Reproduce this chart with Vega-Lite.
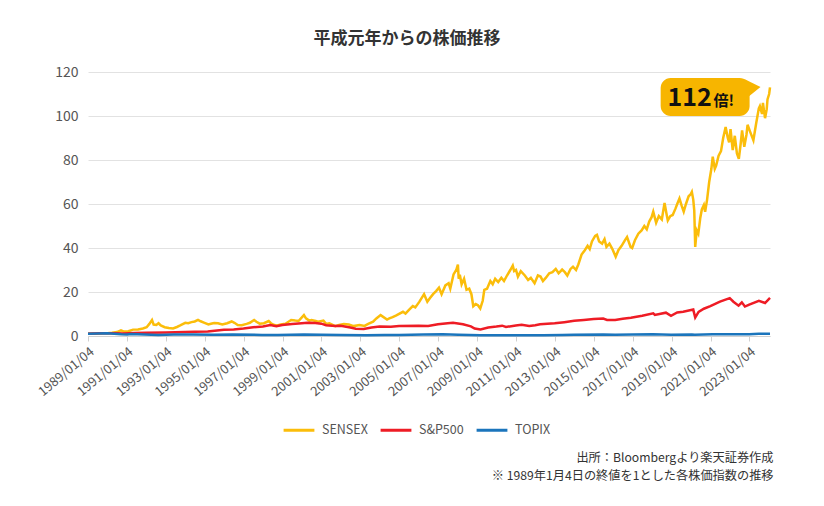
{
  "$schema": "https://vega.github.io/schema/vega-lite/v6.json",
  "autosize": {"type": "none"},
  "padding": {"left": 88, "top": 72, "right": 54, "bottom": 170},
  "width": 682,
  "height": 264,
  "config": {
    "font": "Noto Sans CJK JP",
    "view": {"stroke": null}
  },
  "title": {
    "text": "平成元年からの株価推移",
    "fontSize": 17,
    "fontWeight": "bold",
    "color": "#333",
    "anchor": "middle",
    "dx": -22,
    "offset": 17
  },
  "datasets": {
    "idx": [
      {"date": "1989/01/04", "series": "SENSEX", "value": 1.0},
      {"date": "1989/04/01", "series": "SENSEX", "value": 1.1},
      {"date": "1989/07/01", "series": "SENSEX", "value": 1.0},
      {"date": "1989/10/01", "series": "SENSEX", "value": 1.2},
      {"date": "1990/01/01", "series": "SENSEX", "value": 1.3},
      {"date": "1990/04/01", "series": "SENSEX", "value": 1.5},
      {"date": "1990/07/01", "series": "SENSEX", "value": 1.8},
      {"date": "1990/09/15", "series": "SENSEX", "value": 2.6},
      {"date": "1990/11/01", "series": "SENSEX", "value": 2.1},
      {"date": "1991/02/01", "series": "SENSEX", "value": 2.2},
      {"date": "1991/05/01", "series": "SENSEX", "value": 2.9},
      {"date": "1991/08/01", "series": "SENSEX", "value": 3.0},
      {"date": "1991/11/01", "series": "SENSEX", "value": 3.4},
      {"date": "1992/01/10", "series": "SENSEX", "value": 4.0},
      {"date": "1992/03/01", "series": "SENSEX", "value": 5.5},
      {"date": "1992/04/20", "series": "SENSEX", "value": 7.3},
      {"date": "1992/05/20", "series": "SENSEX", "value": 5.2},
      {"date": "1992/07/10", "series": "SENSEX", "value": 5.0},
      {"date": "1992/08/20", "series": "SENSEX", "value": 5.8},
      {"date": "1992/10/01", "series": "SENSEX", "value": 4.8},
      {"date": "1992/12/15", "series": "SENSEX", "value": 4.0},
      {"date": "1993/03/01", "series": "SENSEX", "value": 3.6},
      {"date": "1993/05/20", "series": "SENSEX", "value": 3.4},
      {"date": "1993/08/01", "series": "SENSEX", "value": 4.1},
      {"date": "1993/10/01", "series": "SENSEX", "value": 4.8},
      {"date": "1994/01/05", "series": "SENSEX", "value": 6.0},
      {"date": "1994/03/01", "series": "SENSEX", "value": 5.8},
      {"date": "1994/05/01", "series": "SENSEX", "value": 6.3},
      {"date": "1994/07/01", "series": "SENSEX", "value": 6.6},
      {"date": "1994/09/01", "series": "SENSEX", "value": 7.3},
      {"date": "1994/10/20", "series": "SENSEX", "value": 6.7},
      {"date": "1995/01/01", "series": "SENSEX", "value": 6.0},
      {"date": "1995/03/15", "series": "SENSEX", "value": 5.3},
      {"date": "1995/05/01", "series": "SENSEX", "value": 5.6},
      {"date": "1995/07/01", "series": "SENSEX", "value": 5.9},
      {"date": "1995/09/10", "series": "SENSEX", "value": 5.8},
      {"date": "1995/12/01", "series": "SENSEX", "value": 5.2},
      {"date": "1996/03/01", "series": "SENSEX", "value": 5.8},
      {"date": "1996/05/25", "series": "SENSEX", "value": 6.6},
      {"date": "1996/07/15", "series": "SENSEX", "value": 6.0},
      {"date": "1996/09/15", "series": "SENSEX", "value": 5.0},
      {"date": "1996/12/01", "series": "SENSEX", "value": 4.9},
      {"date": "1997/03/01", "series": "SENSEX", "value": 5.5},
      {"date": "1997/05/01", "series": "SENSEX", "value": 6.0},
      {"date": "1997/07/20", "series": "SENSEX", "value": 7.3},
      {"date": "1997/09/01", "series": "SENSEX", "value": 6.5},
      {"date": "1997/11/01", "series": "SENSEX", "value": 5.6},
      {"date": "1998/01/20", "series": "SENSEX", "value": 5.8},
      {"date": "1998/04/20", "series": "SENSEX", "value": 6.8},
      {"date": "1998/06/01", "series": "SENSEX", "value": 5.8},
      {"date": "1998/08/01", "series": "SENSEX", "value": 5.0},
      {"date": "1998/10/01", "series": "SENSEX", "value": 4.8},
      {"date": "1998/12/01", "series": "SENSEX", "value": 5.2},
      {"date": "1999/03/01", "series": "SENSEX", "value": 5.6},
      {"date": "1999/06/15", "series": "SENSEX", "value": 7.3},
      {"date": "1999/09/01", "series": "SENSEX", "value": 7.0},
      {"date": "1999/11/01", "series": "SENSEX", "value": 6.8},
      {"date": "2000/02/10", "series": "SENSEX", "value": 9.5},
      {"date": "2000/03/20", "series": "SENSEX", "value": 8.0},
      {"date": "2000/05/20", "series": "SENSEX", "value": 7.0},
      {"date": "2000/07/01", "series": "SENSEX", "value": 7.3},
      {"date": "2000/09/20", "series": "SENSEX", "value": 6.8},
      {"date": "2000/11/01", "series": "SENSEX", "value": 6.5},
      {"date": "2001/02/10", "series": "SENSEX", "value": 7.0},
      {"date": "2001/04/01", "series": "SENSEX", "value": 5.5},
      {"date": "2001/06/01", "series": "SENSEX", "value": 5.8},
      {"date": "2001/09/20", "series": "SENSEX", "value": 4.5},
      {"date": "2001/12/01", "series": "SENSEX", "value": 5.0},
      {"date": "2002/03/01", "series": "SENSEX", "value": 5.5},
      {"date": "2002/06/01", "series": "SENSEX", "value": 5.2},
      {"date": "2002/09/01", "series": "SENSEX", "value": 4.5},
      {"date": "2002/12/20", "series": "SENSEX", "value": 5.0},
      {"date": "2003/03/25", "series": "SENSEX", "value": 4.6},
      {"date": "2003/06/01", "series": "SENSEX", "value": 5.5},
      {"date": "2003/09/01", "series": "SENSEX", "value": 6.5},
      {"date": "2003/11/01", "series": "SENSEX", "value": 8.0},
      {"date": "2004/01/20", "series": "SENSEX", "value": 9.5},
      {"date": "2004/05/20", "series": "SENSEX", "value": 7.5},
      {"date": "2004/07/01", "series": "SENSEX", "value": 8.0},
      {"date": "2004/09/01", "series": "SENSEX", "value": 8.6},
      {"date": "2004/11/01", "series": "SENSEX", "value": 9.3},
      {"date": "2005/03/15", "series": "SENSEX", "value": 11.0},
      {"date": "2005/05/01", "series": "SENSEX", "value": 10.2},
      {"date": "2005/07/01", "series": "SENSEX", "value": 11.8},
      {"date": "2005/09/15", "series": "SENSEX", "value": 13.6},
      {"date": "2005/11/01", "series": "SENSEX", "value": 13.0},
      {"date": "2006/01/15", "series": "SENSEX", "value": 15.5},
      {"date": "2006/04/15", "series": "SENSEX", "value": 19.0},
      {"date": "2006/06/15", "series": "SENSEX", "value": 15.6},
      {"date": "2006/08/01", "series": "SENSEX", "value": 17.2},
      {"date": "2006/10/01", "series": "SENSEX", "value": 19.0},
      {"date": "2006/12/01", "series": "SENSEX", "value": 20.5},
      {"date": "2007/01/20", "series": "SENSEX", "value": 22.0},
      {"date": "2007/03/10", "series": "SENSEX", "value": 19.0},
      {"date": "2007/05/20", "series": "SENSEX", "value": 23.0},
      {"date": "2007/07/20", "series": "SENSEX", "value": 24.0},
      {"date": "2007/08/20", "series": "SENSEX", "value": 21.5},
      {"date": "2007/10/20", "series": "SENSEX", "value": 28.0},
      {"date": "2007/12/10", "series": "SENSEX", "value": 30.0},
      {"date": "2008/01/10", "series": "SENSEX", "value": 32.5},
      {"date": "2008/01/25", "series": "SENSEX", "value": 26.0},
      {"date": "2008/02/15", "series": "SENSEX", "value": 27.8},
      {"date": "2008/03/20", "series": "SENSEX", "value": 23.5},
      {"date": "2008/05/05", "series": "SENSEX", "value": 26.0},
      {"date": "2008/06/20", "series": "SENSEX", "value": 21.0},
      {"date": "2008/08/10", "series": "SENSEX", "value": 21.5},
      {"date": "2008/09/20", "series": "SENSEX", "value": 19.0},
      {"date": "2008/10/25", "series": "SENSEX", "value": 13.5},
      {"date": "2008/12/10", "series": "SENSEX", "value": 14.5},
      {"date": "2009/01/20", "series": "SENSEX", "value": 14.0},
      {"date": "2009/03/05", "series": "SENSEX", "value": 12.5},
      {"date": "2009/04/20", "series": "SENSEX", "value": 16.0},
      {"date": "2009/05/20", "series": "SENSEX", "value": 21.0},
      {"date": "2009/07/10", "series": "SENSEX", "value": 21.5},
      {"date": "2009/09/10", "series": "SENSEX", "value": 25.0},
      {"date": "2009/10/25", "series": "SENSEX", "value": 23.5},
      {"date": "2009/12/10", "series": "SENSEX", "value": 26.0},
      {"date": "2010/02/05", "series": "SENSEX", "value": 24.5},
      {"date": "2010/04/05", "series": "SENSEX", "value": 26.5},
      {"date": "2010/05/25", "series": "SENSEX", "value": 25.0},
      {"date": "2010/07/20", "series": "SENSEX", "value": 27.5},
      {"date": "2010/09/20", "series": "SENSEX", "value": 30.0},
      {"date": "2010/11/05", "series": "SENSEX", "value": 32.0},
      {"date": "2010/12/01", "series": "SENSEX", "value": 29.5},
      {"date": "2011/01/05", "series": "SENSEX", "value": 30.0},
      {"date": "2011/02/10", "series": "SENSEX", "value": 27.0},
      {"date": "2011/04/05", "series": "SENSEX", "value": 29.5},
      {"date": "2011/06/20", "series": "SENSEX", "value": 27.5},
      {"date": "2011/08/20", "series": "SENSEX", "value": 25.5},
      {"date": "2011/10/10", "series": "SENSEX", "value": 26.5},
      {"date": "2011/12/20", "series": "SENSEX", "value": 24.0},
      {"date": "2012/02/20", "series": "SENSEX", "value": 27.5},
      {"date": "2012/04/10", "series": "SENSEX", "value": 27.0},
      {"date": "2012/05/25", "series": "SENSEX", "value": 25.0},
      {"date": "2012/07/20", "series": "SENSEX", "value": 26.5},
      {"date": "2012/09/20", "series": "SENSEX", "value": 28.5},
      {"date": "2012/11/20", "series": "SENSEX", "value": 29.0},
      {"date": "2013/01/20", "series": "SENSEX", "value": 30.5},
      {"date": "2013/03/15", "series": "SENSEX", "value": 28.5},
      {"date": "2013/05/20", "series": "SENSEX", "value": 30.2},
      {"date": "2013/07/10", "series": "SENSEX", "value": 29.0},
      {"date": "2013/08/25", "series": "SENSEX", "value": 27.5},
      {"date": "2013/10/25", "series": "SENSEX", "value": 30.5},
      {"date": "2013/12/10", "series": "SENSEX", "value": 31.5},
      {"date": "2014/02/05", "series": "SENSEX", "value": 30.0},
      {"date": "2014/03/20", "series": "SENSEX", "value": 32.5},
      {"date": "2014/05/20", "series": "SENSEX", "value": 37.0},
      {"date": "2014/07/20", "series": "SENSEX", "value": 39.0},
      {"date": "2014/09/10", "series": "SENSEX", "value": 41.0},
      {"date": "2014/10/20", "series": "SENSEX", "value": 39.5},
      {"date": "2014/12/01", "series": "SENSEX", "value": 43.0},
      {"date": "2015/01/30", "series": "SENSEX", "value": 45.5},
      {"date": "2015/03/05", "series": "SENSEX", "value": 46.0},
      {"date": "2015/04/15", "series": "SENSEX", "value": 43.0},
      {"date": "2015/06/10", "series": "SENSEX", "value": 42.0},
      {"date": "2015/07/25", "series": "SENSEX", "value": 44.0},
      {"date": "2015/08/30", "series": "SENSEX", "value": 40.5},
      {"date": "2015/10/25", "series": "SENSEX", "value": 42.0},
      {"date": "2015/12/20", "series": "SENSEX", "value": 39.5},
      {"date": "2016/02/20", "series": "SENSEX", "value": 36.0},
      {"date": "2016/04/10", "series": "SENSEX", "value": 39.0},
      {"date": "2016/06/10", "series": "SENSEX", "value": 41.0},
      {"date": "2016/08/10", "series": "SENSEX", "value": 43.5},
      {"date": "2016/09/20", "series": "SENSEX", "value": 45.0},
      {"date": "2016/11/25", "series": "SENSEX", "value": 40.5},
      {"date": "2016/12/25", "series": "SENSEX", "value": 40.0},
      {"date": "2017/02/15", "series": "SENSEX", "value": 43.5},
      {"date": "2017/04/20", "series": "SENSEX", "value": 46.5},
      {"date": "2017/06/20", "series": "SENSEX", "value": 48.0},
      {"date": "2017/08/10", "series": "SENSEX", "value": 50.0},
      {"date": "2017/09/25", "series": "SENSEX", "value": 48.5},
      {"date": "2017/11/10", "series": "SENSEX", "value": 52.0},
      {"date": "2017/12/25", "series": "SENSEX", "value": 54.0},
      {"date": "2018/01/25", "series": "SENSEX", "value": 56.5},
      {"date": "2018/03/20", "series": "SENSEX", "value": 51.5},
      {"date": "2018/05/10", "series": "SENSEX", "value": 54.5},
      {"date": "2018/07/05", "series": "SENSEX", "value": 53.0},
      {"date": "2018/08/25", "series": "SENSEX", "value": 60.5},
      {"date": "2018/10/05", "series": "SENSEX", "value": 55.0},
      {"date": "2018/10/25", "series": "SENSEX", "value": 52.5},
      {"date": "2018/12/10", "series": "SENSEX", "value": 54.5},
      {"date": "2019/01/25", "series": "SENSEX", "value": 55.0},
      {"date": "2019/03/20", "series": "SENSEX", "value": 58.0},
      {"date": "2019/04/20", "series": "SENSEX", "value": 60.0},
      {"date": "2019/06/01", "series": "SENSEX", "value": 62.5},
      {"date": "2019/07/15", "series": "SENSEX", "value": 59.0},
      {"date": "2019/08/20", "series": "SENSEX", "value": 56.5},
      {"date": "2019/10/01", "series": "SENSEX", "value": 60.0},
      {"date": "2019/11/20", "series": "SENSEX", "value": 63.5},
      {"date": "2019/12/31", "series": "SENSEX", "value": 64.5},
      {"date": "2020/01/20", "series": "SENSEX", "value": 65.5},
      {"date": "2020/02/15", "series": "SENSEX", "value": 62.0},
      {"date": "2020/03/05", "series": "SENSEX", "value": 57.0},
      {"date": "2020/03/23", "series": "SENSEX", "value": 40.5},
      {"date": "2020/04/20", "series": "SENSEX", "value": 48.0},
      {"date": "2020/05/20", "series": "SENSEX", "value": 46.5},
      {"date": "2020/06/25", "series": "SENSEX", "value": 53.5},
      {"date": "2020/07/25", "series": "SENSEX", "value": 57.5},
      {"date": "2020/09/01", "series": "SENSEX", "value": 59.5},
      {"date": "2020/09/25", "series": "SENSEX", "value": 56.5},
      {"date": "2020/11/01", "series": "SENSEX", "value": 62.0},
      {"date": "2020/12/10", "series": "SENSEX", "value": 70.0},
      {"date": "2021/01/20", "series": "SENSEX", "value": 76.0},
      {"date": "2021/02/15", "series": "SENSEX", "value": 81.5},
      {"date": "2021/03/25", "series": "SENSEX", "value": 76.0},
      {"date": "2021/04/20", "series": "SENSEX", "value": 77.5},
      {"date": "2021/06/05", "series": "SENSEX", "value": 82.0},
      {"date": "2021/07/20", "series": "SENSEX", "value": 84.0},
      {"date": "2021/08/30", "series": "SENSEX", "value": 90.0},
      {"date": "2021/10/15", "series": "SENSEX", "value": 95.0},
      {"date": "2021/11/25", "series": "SENSEX", "value": 90.0},
      {"date": "2021/12/20", "series": "SENSEX", "value": 88.0},
      {"date": "2022/01/15", "series": "SENSEX", "value": 94.0},
      {"date": "2022/02/25", "series": "SENSEX", "value": 84.5},
      {"date": "2022/04/05", "series": "SENSEX", "value": 91.0},
      {"date": "2022/05/15", "series": "SENSEX", "value": 83.0},
      {"date": "2022/06/20", "series": "SENSEX", "value": 80.5},
      {"date": "2022/07/25", "series": "SENSEX", "value": 87.5},
      {"date": "2022/08/20", "series": "SENSEX", "value": 93.5},
      {"date": "2022/09/30", "series": "SENSEX", "value": 86.0},
      {"date": "2022/11/10", "series": "SENSEX", "value": 91.5},
      {"date": "2022/12/01", "series": "SENSEX", "value": 96.0},
      {"date": "2023/01/15", "series": "SENSEX", "value": 93.0},
      {"date": "2023/03/20", "series": "SENSEX", "value": 89.0},
      {"date": "2023/05/10", "series": "SENSEX", "value": 96.5},
      {"date": "2023/06/30", "series": "SENSEX", "value": 103.5},
      {"date": "2023/07/20", "series": "SENSEX", "value": 104.5},
      {"date": "2023/08/30", "series": "SENSEX", "value": 101.0},
      {"date": "2023/09/15", "series": "SENSEX", "value": 106.0},
      {"date": "2023/10/25", "series": "SENSEX", "value": 99.0},
      {"date": "2023/11/25", "series": "SENSEX", "value": 103.0},
      {"date": "2023/12/10", "series": "SENSEX", "value": 107.5},
      {"date": "2024/01/10", "series": "SENSEX", "value": 110.0},
      {"date": "2024/01/26", "series": "SENSEX", "value": 113.0},

      {"date": "1989/01/04", "series": "S&P500", "value": 1.0},
      {"date": "1989/08/01", "series": "S&P500", "value": 1.3},
      {"date": "1990/01/15", "series": "S&P500", "value": 1.2},
      {"date": "1990/07/15", "series": "S&P500", "value": 1.3},
      {"date": "1990/10/15", "series": "S&P500", "value": 1.1},
      {"date": "1991/06/01", "series": "S&P500", "value": 1.4},
      {"date": "1992/01/01", "series": "S&P500", "value": 1.5},
      {"date": "1993/01/01", "series": "S&P500", "value": 1.6},
      {"date": "1994/01/01", "series": "S&P500", "value": 1.8},
      {"date": "1994/07/01", "series": "S&P500", "value": 1.9},
      {"date": "1995/03/01", "series": "S&P500", "value": 2.1},
      {"date": "1996/01/01", "series": "S&P500", "value": 2.8},
      {"date": "1996/07/01", "series": "S&P500", "value": 3.0},
      {"date": "1997/01/01", "series": "S&P500", "value": 3.4},
      {"date": "1997/07/01", "series": "S&P500", "value": 4.0},
      {"date": "1998/01/01", "series": "S&P500", "value": 4.3},
      {"date": "1998/05/20", "series": "S&P500", "value": 5.0},
      {"date": "1998/09/10", "series": "S&P500", "value": 4.4},
      {"date": "1999/01/01", "series": "S&P500", "value": 5.0},
      {"date": "1999/07/01", "series": "S&P500", "value": 5.5},
      {"date": "2000/01/01", "series": "S&P500", "value": 5.8},
      {"date": "2000/04/15", "series": "S&P500", "value": 6.0},
      {"date": "2000/09/10", "series": "S&P500", "value": 5.9},
      {"date": "2001/01/01", "series": "S&P500", "value": 5.6},
      {"date": "2001/04/01", "series": "S&P500", "value": 4.9},
      {"date": "2001/09/20", "series": "S&P500", "value": 4.5},
      {"date": "2002/01/01", "series": "S&P500", "value": 4.7},
      {"date": "2002/07/01", "series": "S&P500", "value": 3.9},
      {"date": "2002/10/10", "series": "S&P500", "value": 3.3},
      {"date": "2003/03/10", "series": "S&P500", "value": 3.2},
      {"date": "2003/08/01", "series": "S&P500", "value": 3.9},
      {"date": "2004/01/01", "series": "S&P500", "value": 4.3},
      {"date": "2004/08/01", "series": "S&P500", "value": 4.2},
      {"date": "2005/01/01", "series": "S&P500", "value": 4.5},
      {"date": "2006/01/01", "series": "S&P500", "value": 4.7},
      {"date": "2006/07/01", "series": "S&P500", "value": 4.6},
      {"date": "2007/01/01", "series": "S&P500", "value": 5.3},
      {"date": "2007/07/01", "series": "S&P500", "value": 5.8},
      {"date": "2007/10/10", "series": "S&P500", "value": 6.0},
      {"date": "2008/04/15", "series": "S&P500", "value": 5.3},
      {"date": "2008/09/10", "series": "S&P500", "value": 4.4},
      {"date": "2008/11/20", "series": "S&P500", "value": 3.4},
      {"date": "2009/03/09", "series": "S&P500", "value": 3.0},
      {"date": "2009/08/01", "series": "S&P500", "value": 3.9},
      {"date": "2010/01/01", "series": "S&P500", "value": 4.3},
      {"date": "2010/04/20", "series": "S&P500", "value": 4.7},
      {"date": "2010/07/01", "series": "S&P500", "value": 4.1},
      {"date": "2011/01/01", "series": "S&P500", "value": 4.8},
      {"date": "2011/04/20", "series": "S&P500", "value": 5.1},
      {"date": "2011/09/10", "series": "S&P500", "value": 4.5},
      {"date": "2012/01/01", "series": "S&P500", "value": 4.9},
      {"date": "2012/04/01", "series": "S&P500", "value": 5.3},
      {"date": "2013/01/01", "series": "S&P500", "value": 5.8},
      {"date": "2013/07/01", "series": "S&P500", "value": 6.3},
      {"date": "2014/01/01", "series": "S&P500", "value": 6.9},
      {"date": "2014/07/01", "series": "S&P500", "value": 7.3},
      {"date": "2015/01/01", "series": "S&P500", "value": 7.7},
      {"date": "2015/07/01", "series": "S&P500", "value": 7.9},
      {"date": "2015/09/10", "series": "S&P500", "value": 7.3},
      {"date": "2016/02/10", "series": "S&P500", "value": 7.3},
      {"date": "2016/07/01", "series": "S&P500", "value": 7.8},
      {"date": "2016/12/01", "series": "S&P500", "value": 8.3},
      {"date": "2017/07/01", "series": "S&P500", "value": 9.2},
      {"date": "2018/01/25", "series": "S&P500", "value": 10.3},
      {"date": "2018/02/25", "series": "S&P500", "value": 9.6},
      {"date": "2018/09/20", "series": "S&P500", "value": 10.6},
      {"date": "2018/12/24", "series": "S&P500", "value": 9.2},
      {"date": "2019/04/20", "series": "S&P500", "value": 10.7},
      {"date": "2019/08/10", "series": "S&P500", "value": 11.0},
      {"date": "2020/02/15", "series": "S&P500", "value": 12.0},
      {"date": "2020/03/23", "series": "S&P500", "value": 8.4},
      {"date": "2020/05/25", "series": "S&P500", "value": 11.0},
      {"date": "2020/09/01", "series": "S&P500", "value": 12.4},
      {"date": "2021/01/01", "series": "S&P500", "value": 13.6},
      {"date": "2021/07/01", "series": "S&P500", "value": 15.6},
      {"date": "2021/12/31", "series": "S&P500", "value": 17.2},
      {"date": "2022/03/10", "series": "S&P500", "value": 15.6},
      {"date": "2022/06/15", "series": "S&P500", "value": 13.8},
      {"date": "2022/08/15", "series": "S&P500", "value": 15.3},
      {"date": "2022/10/12", "series": "S&P500", "value": 13.4},
      {"date": "2023/01/01", "series": "S&P500", "value": 14.3},
      {"date": "2023/07/01", "series": "S&P500", "value": 16.0},
      {"date": "2023/10/25", "series": "S&P500", "value": 15.0},
      {"date": "2024/01/26", "series": "S&P500", "value": 17.3},

      {"date": "1989/01/04", "series": "TOPIX", "value": 1.0},
      {"date": "1989/12/29", "series": "TOPIX", "value": 1.22},
      {"date": "1990/09/20", "series": "TOPIX", "value": 0.75},
      {"date": "1991/01/10", "series": "TOPIX", "value": 0.72},
      {"date": "1991/03/20", "series": "TOPIX", "value": 0.88},
      {"date": "1992/08/15", "series": "TOPIX", "value": 0.5},
      {"date": "1993/06/01", "series": "TOPIX", "value": 0.68},
      {"date": "1994/06/01", "series": "TOPIX", "value": 0.7},
      {"date": "1995/06/15", "series": "TOPIX", "value": 0.55},
      {"date": "1996/06/15", "series": "TOPIX", "value": 0.71},
      {"date": "1997/12/15", "series": "TOPIX", "value": 0.5},
      {"date": "1998/10/10", "series": "TOPIX", "value": 0.42},
      {"date": "2000/02/10", "series": "TOPIX", "value": 0.71},
      {"date": "2001/01/10", "series": "TOPIX", "value": 0.55},
      {"date": "2002/01/10", "series": "TOPIX", "value": 0.42},
      {"date": "2003/04/25", "series": "TOPIX", "value": 0.33},
      {"date": "2004/04/01", "series": "TOPIX", "value": 0.46},
      {"date": "2005/01/01", "series": "TOPIX", "value": 0.48},
      {"date": "2006/04/01", "series": "TOPIX", "value": 0.7},
      {"date": "2007/04/01", "series": "TOPIX", "value": 0.76},
      {"date": "2008/01/20", "series": "TOPIX", "value": 0.55},
      {"date": "2009/03/10", "series": "TOPIX", "value": 0.3},
      {"date": "2010/01/01", "series": "TOPIX", "value": 0.38},
      {"date": "2011/01/01", "series": "TOPIX", "value": 0.38},
      {"date": "2012/06/01", "series": "TOPIX", "value": 0.31},
      {"date": "2013/05/20", "series": "TOPIX", "value": 0.49},
      {"date": "2014/01/01", "series": "TOPIX", "value": 0.54},
      {"date": "2015/07/01", "series": "TOPIX", "value": 0.7},
      {"date": "2016/02/10", "series": "TOPIX", "value": 0.54},
      {"date": "2017/01/01", "series": "TOPIX", "value": 0.64},
      {"date": "2018/01/20", "series": "TOPIX", "value": 0.77},
      {"date": "2018/12/25", "series": "TOPIX", "value": 0.59},
      {"date": "2020/01/20", "series": "TOPIX", "value": 0.72},
      {"date": "2020/03/15", "series": "TOPIX", "value": 0.53},
      {"date": "2021/02/15", "series": "TOPIX", "value": 0.83},
      {"date": "2022/01/01", "series": "TOPIX", "value": 0.8},
      {"date": "2023/01/01", "series": "TOPIX", "value": 0.8},
      {"date": "2023/07/01", "series": "TOPIX", "value": 0.97},
      {"date": "2024/01/26", "series": "TOPIX", "value": 1.07}
    ],
    "box": [
      {"start": "2018/06/13", "end": "2023/01/08", "low": 100, "high": 117.3}
    ],
    "tail": [
      {"date": "2022/10/01", "low": 107.3, "high": 116.8},
      {"date": "2023/08/01", "low": 113.2, "high": 113.2}
    ],
    "label": [
      {"date": "2021/01/26", "value": 104.5, "text": "112", "part": "num"},
      {"date": "2021/03/03", "value": 104.5, "text": "倍!", "part": "unit"}
    ]
  },
  "layer": [
    {
      "data": {"name": "idx"},
      "mark": {"type": "line", "strokeWidth": 2.5},
      "encoding": {
        "x": {
          "field": "date",
          "type": "temporal",
          "scale": {"domain": [{"year": 1989, "month": 1, "date": 4}, {"year": 2024, "month": 1, "date": 26}]},
          "axis": {
            "title": ["出所：Bloombergより楽天証券作成", "※ 1989年1月4日の終値を1とした各株価指数の推移"],
            "titleAnchor": "end",
            "titleAlign": "right",
            "titleBaseline": "top",
            "titleX": 685,
            "titleY": 115,
            "titleFontSize": 12.2,
            "titleFontWeight": "normal",
            "titleColor": "#333",
            "titleLineHeight": 18,
            "format": "%Y/%m/%d",
            "values": [
              {"year": 1989, "month": 1, "date": 4}, {"year": 1991, "month": 1, "date": 4},
              {"year": 1993, "month": 1, "date": 4}, {"year": 1995, "month": 1, "date": 4},
              {"year": 1997, "month": 1, "date": 4}, {"year": 1999, "month": 1, "date": 4},
              {"year": 2001, "month": 1, "date": 4}, {"year": 2003, "month": 1, "date": 4},
              {"year": 2005, "month": 1, "date": 4}, {"year": 2007, "month": 1, "date": 4},
              {"year": 2009, "month": 1, "date": 4}, {"year": 2011, "month": 1, "date": 4},
              {"year": 2013, "month": 1, "date": 4}, {"year": 2015, "month": 1, "date": 4},
              {"year": 2017, "month": 1, "date": 4}, {"year": 2019, "month": 1, "date": 4},
              {"year": 2021, "month": 1, "date": 4}, {"year": 2023, "month": 1, "date": 4}
            ],
            "labelAngle": -40,
            "labelFontSize": 13,
            "labelColor": "#555",
            "labelPadding": 4,
            "tickSize": 5,
            "tickColor": "#d0d0d0",
            "domainColor": "#d0d0d0",
            "grid": false,
            "labelOverlap": false
          }
        },
        "y": {
          "field": "value",
          "type": "quantitative",
          "scale": {"domain": [0, 120]},
          "axis": {
            "title": null,
            "values": [0, 20, 40, 60, 80, 100, 120],
            "labelFontSize": 14,
            "labelColor": "#555",
            "labelPadding": 10,
            "ticks": false,
            "domain": false,
            "gridColor": "#e2e2e2"
          }
        },
        "color": {
          "field": "series",
          "type": "nominal",
          "sort": ["SENSEX", "S&P500", "TOPIX"],
          "scale": {"domain": ["SENSEX", "S&P500", "TOPIX"], "range": ["#fbbd0a", "#ee1c25", "#1b75bc"]},
          "legend": {
            "title": null,
            "orient": "none",
            "legendX": 194,
            "legendY": 341,
            "direction": "horizontal",
            "symbolType": "stroke",
            "symbolSize": 950,
            "symbolStrokeWidth": 3,
            "labelFontSize": 12.5,
            "labelColor": "#555",
            "labelOffset": 6,
            "columnPadding": 6,
            "padding": 0
          }
        }
      }
    },
    {
      "data": {"name": "box"},
      "mark": {"type": "rect", "color": "#f7b500", "cornerRadius": 10},
      "encoding": {
        "x": {"field": "start", "type": "temporal"},
        "x2": {"field": "end"},
        "y": {"field": "low", "type": "quantitative"},
        "y2": {"field": "high"}
      }
    },
    {
      "data": {"name": "tail"},
      "mark": {"type": "area", "color": "#f7b500", "opacity": 1},
      "encoding": {
        "x": {"field": "date", "type": "temporal"},
        "y": {"field": "low", "type": "quantitative"},
        "y2": {"field": "high"}
      }
    },
    {
      "data": {"name": "label"},
      "transform": [{"filter": "datum.part == 'num'"}],
      "mark": {"type": "text", "align": "right", "baseline": "alphabetic", "fontSize": 25, "fontWeight": "bold", "color": "#111"},
      "encoding": {
        "x": {"field": "date", "type": "temporal"},
        "y": {"field": "value", "type": "quantitative"},
        "text": {"field": "text"}
      }
    },
    {
      "data": {"name": "label"},
      "transform": [{"filter": "datum.part == 'unit'"}],
      "mark": {"type": "text", "align": "left", "baseline": "alphabetic", "fontSize": 15, "fontWeight": "bold", "color": "#111"},
      "encoding": {
        "x": {"field": "date", "type": "temporal"},
        "y": {"field": "value", "type": "quantitative"},
        "text": {"field": "text"}
      }
    }
  ]
}
